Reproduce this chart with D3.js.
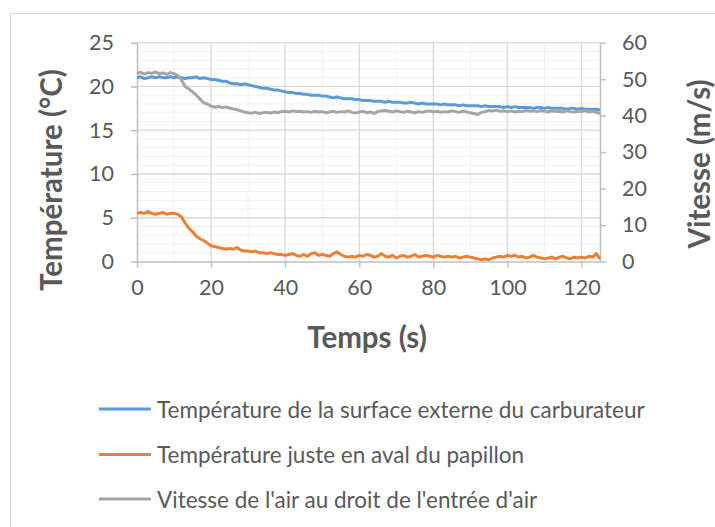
<!DOCTYPE html>
<html>
<head>
<meta charset="utf-8">
<script src="https://cdn.jsdelivr.net/npm/d3@7"></script>
<style>
  html, body { margin: 0; padding: 0; background: #fff; }
  svg { display: block; }
  text { font-family: Lato, "Open Sans", sans-serif; fill: #595959; }
</style>
</head>
<body>
<svg id="chart" width="715" height="527"></svg>
<script>
// ---- Data (1 s step, t = 0..125 s) ----
const time = d3.range(0, 126);

const tempSurface = [
  21.0, 21.1, 20.9, 21.0, 21.1, 21.0, 21.1, 21.0, 21.0, 21.1,
  21.0, 21.1, 21.0, 20.9, 21.0, 21.0, 21.1, 20.9, 21.0, 20.9,
  20.8, 20.8, 20.7, 20.6, 20.6, 20.4, 20.3, 20.3, 20.2, 20.3,
  20.2, 20.1, 20.0, 19.9, 19.8, 19.8, 19.7, 19.6, 19.6, 19.5,
  19.4, 19.3, 19.3, 19.2, 19.2, 19.1, 19.1, 19.0, 19.0, 19.0,
  18.9, 18.9, 18.8, 18.7, 18.8, 18.7, 18.6, 18.6, 18.6, 18.5,
  18.5, 18.4, 18.4, 18.4, 18.3, 18.3, 18.3, 18.2, 18.3, 18.2,
  18.2, 18.2, 18.1, 18.1, 18.2, 18.1, 18.0, 18.1, 18.0, 18.0,
  18.0, 18.0, 17.9, 18.0, 17.9, 17.9, 17.9, 17.8, 17.9, 17.8,
  17.8, 17.8, 17.8, 17.7, 17.8, 17.7, 17.7, 17.7, 17.7, 17.6,
  17.7, 17.6, 17.7, 17.6, 17.6, 17.6, 17.6, 17.5, 17.6, 17.6,
  17.5, 17.6, 17.5, 17.5, 17.5, 17.5, 17.4, 17.5, 17.5, 17.4,
  17.5, 17.4, 17.4, 17.4, 17.4, 17.3
];

const tempPapillon = [
  5.5, 5.6, 5.5, 5.7, 5.5, 5.4, 5.5, 5.6, 5.4, 5.5,
  5.5, 5.4, 5.1, 4.4, 3.8, 3.4, 2.9, 2.6, 2.4, 2.1,
  1.8, 1.7, 1.6, 1.5, 1.4, 1.5, 1.4, 1.6, 1.3, 1.2,
  1.2, 1.1, 1.2, 1.0, 1.0, 0.9, 1.0, 0.9, 0.8, 0.8,
  0.7, 0.8, 0.9, 0.7, 0.6, 0.8, 0.6, 0.9, 1.0, 0.7,
  0.8, 0.7, 0.6, 0.9, 1.1, 0.8, 0.6, 0.5, 0.6, 0.5,
  0.7, 0.6, 0.8, 0.7, 0.5, 0.6, 0.9, 0.6, 0.5, 0.7,
  0.4, 0.6, 0.7, 0.5, 0.6, 0.8, 0.5, 0.6, 0.7, 0.6,
  0.5, 0.7, 0.6, 0.5, 0.6, 0.5, 0.6, 0.4, 0.5, 0.6,
  0.5, 0.4, 0.3, 0.2, 0.3, 0.2, 0.4, 0.5, 0.6, 0.5,
  0.7, 0.6, 0.7, 0.5, 0.6, 0.4, 0.5, 0.7, 0.5, 0.4,
  0.3, 0.4, 0.5, 0.3, 0.5, 0.6, 0.4, 0.3, 0.5, 0.4,
  0.5, 0.4, 0.6, 0.5, 0.9, 0.3
];

const vitesseAir = [
  51.6, 51.9, 51.4, 51.8, 51.6, 52.0, 51.5, 51.7, 51.3, 51.8,
  51.5, 51.0, 49.8, 48.0, 47.3, 46.5, 45.6, 44.6, 43.5, 43.2,
  42.6, 42.3, 42.5, 42.2, 42.4, 42.1, 41.8, 41.6, 41.3, 41.0,
  40.8, 40.7, 40.9, 40.6, 40.8, 40.9, 40.7, 41.0, 40.8, 41.1,
  41.2, 41.0, 41.3, 41.1, 41.2, 41.0, 41.1, 40.9, 41.2, 41.0,
  41.1, 40.8, 41.0, 41.2, 40.9, 41.1, 41.0, 41.3, 40.9, 40.7,
  41.0, 41.2, 40.8, 41.0, 40.6, 41.1, 41.3, 41.4, 41.2, 41.0,
  41.3, 41.1, 40.9, 41.2, 41.0, 40.8, 41.1, 40.9, 41.2, 41.3,
  41.0, 41.2, 40.9, 41.1, 41.0, 41.3, 41.1, 40.9, 41.2, 41.0,
  40.8, 40.6, 40.3, 40.9, 41.1, 41.4, 41.3, 41.5, 41.2, 41.3,
  41.1, 41.3, 41.0, 41.2, 41.1, 41.4, 41.2, 41.3, 41.1, 41.4,
  41.2, 41.0, 41.3, 41.1, 41.2, 41.0, 41.3, 41.1, 41.0, 41.2,
  41.1, 41.3, 41.0, 41.2, 40.9, 40.6
];

const xTicks = [0, 20, 40, 60, 80, 100, 120];
const yLeftTicks = [0, 5, 10, 15, 20, 25];
const yRightTicks = [0, 10, 20, 30, 40, 50, 60];

const seriesNames = [
  "Température de la surface externe du carburateur",
  "Température juste en aval du papillon",
  "Vitesse de l'air au droit de l'entrée d'air"
];
const seriesColors = ["#5B9BD5", "#ED7D31", "#A5A5A5"];

// ---- Layout ----
const svg = d3.select("#chart");
const L = 137, R = 600, T = 42.7, B = 261.5;

const x = d3.scaleLinear().domain([0, 125]).range([L, R]);
const yL = d3.scaleLinear().domain([0, 25]).range([B, T]);
const yR = d3.scaleLinear().domain([0, 60]).range([B, T]);

// outer border
svg.append("rect").attr("x", 10.5).attr("y", 13.5).attr("width", 720).attr("height", 530)
  .attr("fill", "#fff").attr("stroke", "#d9d9d9").attr("stroke-width", 1);

// minor gridlines
const grid = svg.append("g");
d3.range(1, 25).filter(v => v % 5 !== 0).forEach(v => {
  grid.append("line").attr("x1", L).attr("x2", R).attr("y1", yL(v)).attr("y2", yL(v))
    .attr("stroke", "#f0f0f0").attr("stroke-width", 1);
});
[10, 30, 50, 70, 90, 110].forEach(v => {
  grid.append("line").attr("x1", x(v)).attr("x2", x(v)).attr("y1", T).attr("y2", B)
    .attr("stroke", "#f0f0f0").attr("stroke-width", 1);
});
// major gridlines
yLeftTicks.filter(v => v > 0).forEach(v => {
  grid.append("line").attr("x1", L).attr("x2", R).attr("y1", yL(v)).attr("y2", yL(v))
    .attr("stroke", "#d9d9d9").attr("stroke-width", 1.3);
});
xTicks.filter(v => v > 0).forEach(v => {
  grid.append("line").attr("x1", x(v)).attr("x2", x(v)).attr("y1", T).attr("y2", B)
    .attr("stroke", "#d9d9d9").attr("stroke-width", 1.3);
});

// axes
const axisColor = "#bfbfbf";
function styleAxis(g) {
  g.select(".domain").attr("stroke", axisColor).attr("stroke-width", 1.5);
  g.selectAll(".tick line").attr("stroke", axisColor).attr("stroke-width", 1.5);
  g.selectAll(".tick text").style("font-size", "21.5px").attr("fill", "#595959");
}
const gx = svg.append("g").attr("transform", `translate(0,${B})`)
  .call(d3.axisBottom(x).tickValues(xTicks).tickSize(6).tickSizeOuter(0).tickPadding(12));
styleAxis(gx);
const gyl = svg.append("g").attr("transform", `translate(${L},0)`)
  .call(d3.axisLeft(yL).tickValues(yLeftTicks).tickSize(6).tickSizeOuter(0).tickPadding(17));
styleAxis(gyl);
const gyr = svg.append("g").attr("transform", `translate(${R},0)`)
  .call(d3.axisRight(yR).tickValues(yRightTicks).tickSize(6).tickSizeOuter(0).tickPadding(16));
styleAxis(gyr);
gx.selectAll(".tick text").attr("dy", "0.71em");

// lines
const lineL = d3.line().x((d, i) => x(time[i])).y(d => yL(d));
const lineR = d3.line().x((d, i) => x(time[i])).y(d => yR(d));
const plot = svg.append("g");
plot.append("path").datum(tempSurface).attr("d", lineL).attr("fill", "none")
  .attr("stroke", seriesColors[0]).attr("stroke-width", 3).attr("stroke-linejoin", "round");
plot.append("path").datum(tempPapillon).attr("d", lineL).attr("fill", "none")
  .attr("stroke", seriesColors[1]).attr("stroke-width", 3).attr("stroke-linejoin", "round");
plot.append("path").datum(vitesseAir).attr("d", lineR).attr("fill", "none")
  .attr("stroke", seriesColors[2]).attr("stroke-width", 3).attr("stroke-linejoin", "round");

// axis titles
svg.append("text").attr("transform", "translate(50,180) rotate(-90)")
  .attr("text-anchor", "middle").attr("dominant-baseline", "central")
  .style("font-size", "29.5px").style("font-weight", "bold").text("Température (°C)");
svg.append("text").attr("transform", "translate(698,164) rotate(-90)")
  .attr("text-anchor", "middle").attr("dominant-baseline", "central")
  .style("font-size", "29.5px").style("font-weight", "bold").text("Vitesse (m/s)");
svg.append("text").attr("x", 367).attr("y", 336)
  .attr("text-anchor", "middle").attr("dominant-baseline", "central")
  .style("font-size", "29.5px").style("font-weight", "bold").text("Temps (s)");

// legend
const legY = [409, 454.5, 499];
seriesNames.forEach((name, i) => {
  svg.append("line").attr("x1", 99).attr("x2", 151).attr("y1", legY[i]).attr("y2", legY[i])
    .attr("stroke", seriesColors[i]).attr("stroke-width", 3);
  svg.append("text").attr("x", 157).attr("y", legY[i]).attr("dominant-baseline", "central")
    .style("font-size", "22.5px").text(name);
});
</script>
</body>
</html>
